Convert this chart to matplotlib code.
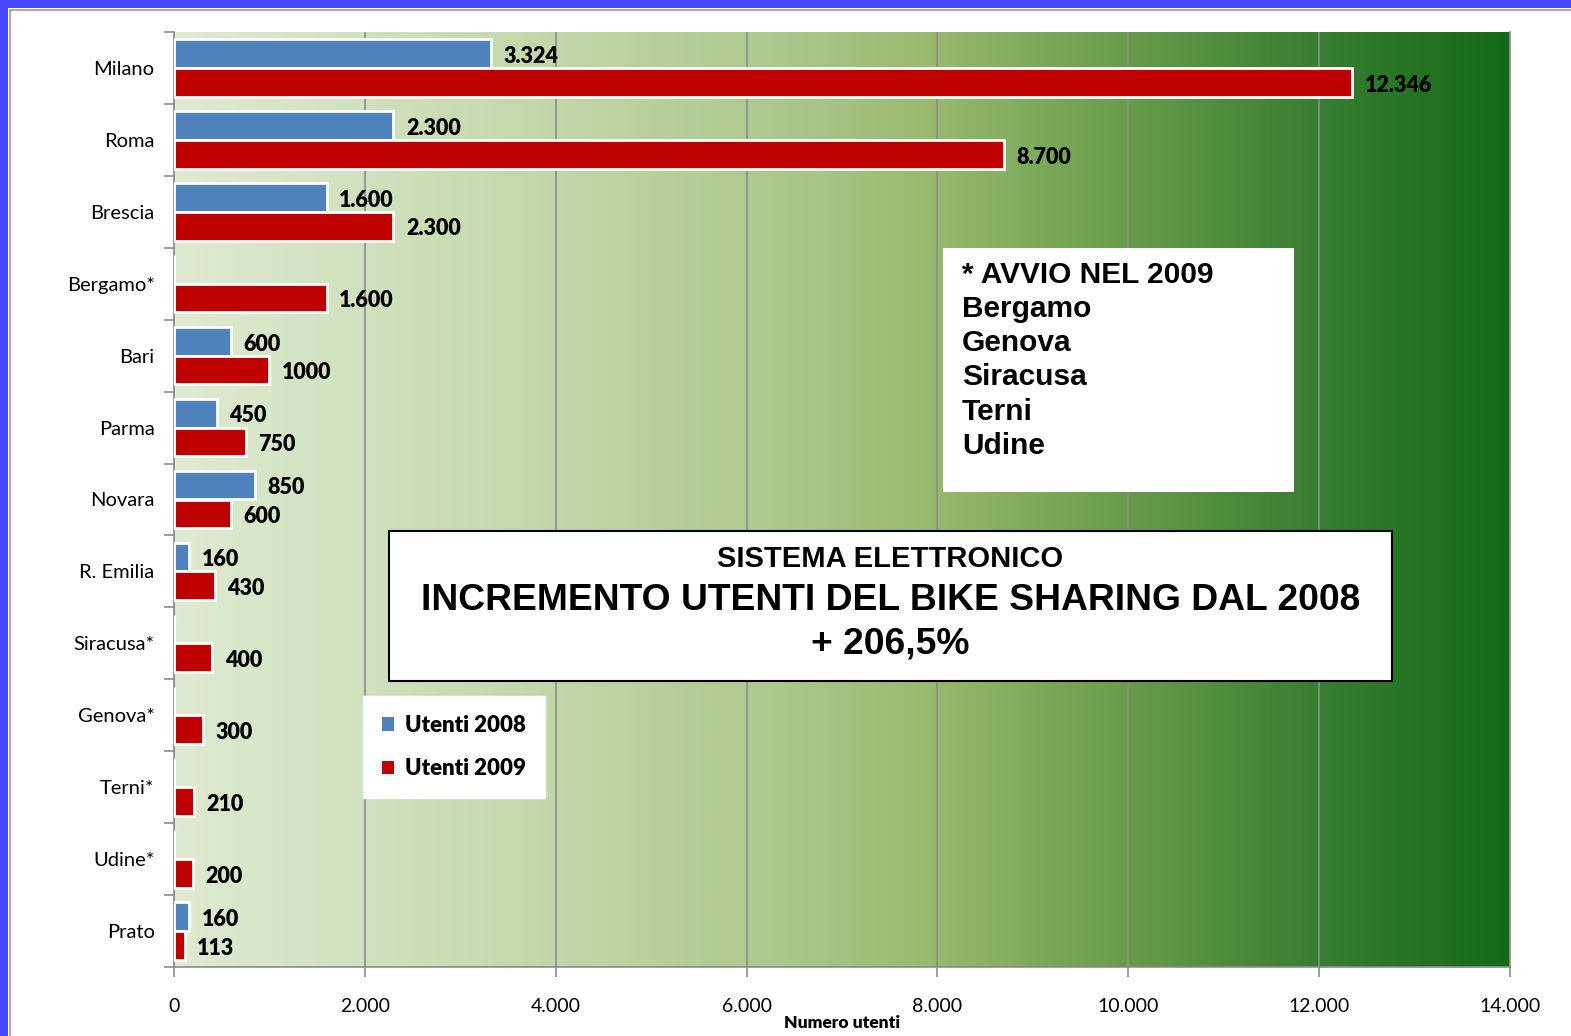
import numpy as np
import matplotlib
matplotlib.use('Agg')
import matplotlib.pyplot as plt
from matplotlib.colors import LinearSegmentedColormap
from matplotlib.patches import Rectangle
from matplotlib.ticker import FuncFormatter

# ── Data ─────────────────────────────────────────────────────────────────────
cities = ['Milano', 'Roma', 'Brescia', 'Bergamo*', 'Bari', 'Parma', 'Novara',
          'R. Emilia', 'Siracusa*', 'Genova*', 'Terni*', 'Udine*', 'Prato']
users_2008 = [3324, 2300, 1600, 0, 600, 450, 850, 160, 0, 0, 0, 0, 160]
users_2009 = [12346, 8700, 2300, 1600, 1000, 750, 600, 430, 400, 300, 210, 200, 113]
labels_2008 = ['3.324', '2.300', '1.600', '', '600', '450', '850', '160',
               '', '', '', '', '160']
labels_2009 = ['12.346', '8.700', '2.300', '1.600', '1000', '750', '600', '430',
               '400', '300', '210', '200', '113']
x_ticks = [0, 2000, 4000, 6000, 8000, 10000, 12000, 14000]

started_2009 = ['Bergamo', 'Genova', 'Siracusa', 'Terni', 'Udine']

# ── Style ────────────────────────────────────────────────────────────────────
BLUE  = '#4f81bd'
RED   = '#c00000'
FRAME = '#4848ff'
GRID  = '#8c8c8c'
LABEL_FONT = ['Lato', 'DejaVu Sans']
BOX_FONT   = ['Liberation Sans', 'DejaVu Sans']

W, H = 1571, 1036
fig = plt.figure(figsize=(W / 100, H / 100), dpi=100)
fig.patch.set_facecolor('white')

# slide frame: blue band top/left plus thin grey rule
fig.patches.append(Rectangle((0, (H - 8) / H), 1, 8 / H, transform=fig.transFigure,
                             facecolor=FRAME, edgecolor='none', zorder=0))
fig.patches.append(Rectangle((0, 0), 8 / W, 1, transform=fig.transFigure,
                             facecolor=FRAME, edgecolor='none', zorder=0))
fig.lines.append(plt.Line2D([9.5 / W, 1], [(H - 9.5) / H] * 2, transform=fig.transFigure,
                            color='#999999', lw=1.2))
fig.lines.append(plt.Line2D([9.5 / W] * 2, [0, (H - 9.5) / H], transform=fig.transFigure,
                            color='#999999', lw=1.2))

ax = fig.add_axes([174 / W, 69 / H, 1336 / W, 935 / H])

# ── Gradient background ──────────────────────────────────────────────────────
grad_cmap = LinearSegmentedColormap.from_list('bg', [
    (0.00, '#dfead2'),
    (0.15, '#d0e0bd'),
    (0.30, '#c0d5a5'),
    (0.45, '#acc88d'),
    (0.57, '#98b96d'),
    (0.70, '#6c9f4e'),
    (0.85, '#3a7f31'),
    (1.00, '#136a18'),
])
ax.imshow(np.linspace(0, 1, 512).reshape(1, -1), cmap=grad_cmap, aspect='auto',
          extent=[0, 1, 0, 1], transform=ax.transAxes, zorder=0)

# ── Bars ─────────────────────────────────────────────────────────────────────
y = np.arange(len(cities))
bh = 0.4
b08 = ax.barh(y - bh / 2, users_2008, height=bh, color=BLUE, edgecolor='white',
              linewidth=2, zorder=3, label='Utenti 2008')
b09 = ax.barh(y + bh / 2, users_2009, height=bh, color=RED, edgecolor='white',
              linewidth=2, zorder=3, label='Utenti 2009')

for bars, labs in ((b08, labels_2008), (b09, labels_2009)):
    for bar, lab in zip(bars, labs):
        if not lab:
            continue
        ax.annotate(lab, (bar.get_width(), bar.get_y() + bar.get_height() / 2),
                    xytext=(9, -2), textcoords='offset points', ha='left', va='center',
                    fontsize=15.5, fontweight='heavy', family=LABEL_FONT, color='black',
                    zorder=4)

# ── Axes ─────────────────────────────────────────────────────────────────────
ax.set_xlim(0, 14000)
ax.set_ylim(len(cities) - 0.5, -0.5)
ax.set_xticks(x_ticks)
ax.xaxis.set_major_formatter(FuncFormatter(lambda v, p: f'{int(v):,}'.replace(',', '.')))
ax.set_yticks(y)
ax.set_yticklabels(cities)
ax.set_yticks(np.arange(-0.5, len(cities)), minor=True)
ax.tick_params(axis='y', which='major', length=0, pad=14, labelsize=14.5)
ax.tick_params(axis='y', which='minor', length=7, color=GRID, width=1.2)
ax.tick_params(axis='x', length=7, color=GRID, width=1.2, pad=15, labelsize=14)
for lab in ax.get_xticklabels() + ax.get_yticklabels():
    lab.set_family(LABEL_FONT)

ax.grid(axis='x', color=GRID, linewidth=1.2, zorder=1)
ax.set_axisbelow(True)
ax.spines['top'].set_visible(False)
for side in ('left', 'bottom', 'right'):
    ax.spines[side].set_color(GRID)
    ax.spines[side].set_linewidth(1.2)

ax.set_xlabel('Numero utenti', fontsize=12.5, fontweight='heavy', family=LABEL_FONT,
              labelpad=0)

# ── Legend ───────────────────────────────────────────────────────────────────
leg = ax.legend(loc='upper left', bbox_to_anchor=((363 - 174) / 1336, 1 - (696 - 32) / 935),
                frameon=True, fancybox=False, framealpha=1, edgecolor='white',
                handlelength=0.55, handleheight=0.55, handletextpad=0.5,
                labelspacing=1.0, borderpad=0.85, borderaxespad=0,
                prop=dict(family=LABEL_FONT, weight='heavy', size=16))
for h in leg.legend_handles:
    h.set_linewidth(0)

# ── Text boxes ───────────────────────────────────────────────────────────────
fig.patches.append(Rectangle((943 / W, 1 - 492 / H), 351 / W, 244 / H,
                             transform=fig.transFigure, facecolor='white',
                             edgecolor='none', zorder=5))
fig.text(962 / W, 1 - 261 / H, '* AVVIO NEL 2009\n' + '\n'.join(started_2009),
         ha='left', va='top', fontsize=21.5, fontweight='bold', family=BOX_FONT,
         linespacing=1.28, zorder=6)

fig.patches.append(Rectangle((389 / W, 1 - 681 / H), 1003 / W, 150 / H,
                             transform=fig.transFigure, facecolor='white',
                             edgecolor='black', linewidth=1.5, zorder=5))
cx = (389 + 1392) / 2 / W
fig.text(cx, 1 - 559 / H, 'SISTEMA ELETTRONICO', ha='center', va='center',
         fontsize=21, fontweight='bold', family=BOX_FONT, zorder=6)
fig.text(cx, 1 - 600 / H, 'INCREMENTO UTENTI DEL BIKE SHARING DAL 2008', ha='center',
         va='center', fontsize=26.8, fontweight='bold', family=BOX_FONT, zorder=6)
fig.text(cx, 1 - 644 / H, '+ 206,5%', ha='center', va='center',
         fontsize=26.8, fontweight='bold', family=BOX_FONT, zorder=6)

fig.savefig('out.png', dpi=100)
